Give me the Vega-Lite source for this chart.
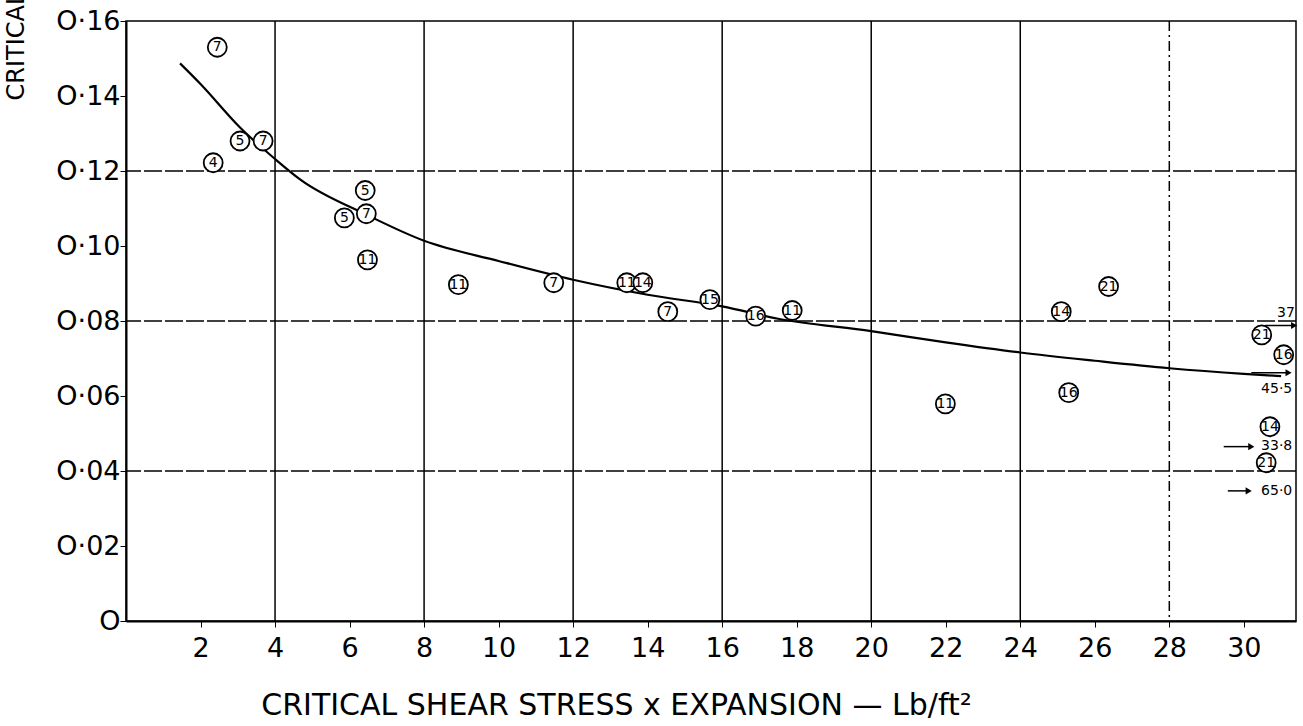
{
  "$schema": "https://vega.github.io/schema/vega-lite/v6.json",
  "width": 1170,
  "height": 600,
  "autosize": "none",
  "padding": {"left": 126, "top": 21, "right": 7, "bottom": 105},
  "background": "white",
  "config": {
    "font": "DejaVu Sans",
    "view": {"stroke": "black", "strokeWidth": 1.5},
    "axisX": {
      "grid": false,
      "domainColor": "black",
      "domainWidth": 2,
      "tickColor": "black",
      "tickSize": 6,
      "labelFontSize": 27,
      "labelColor": "black",
      "labelPadding": 8,
      "titleFontSize": 30,
      "titleFontWeight": "normal",
      "titleColor": "black",
      "titleX": 490,
      "titleY": 84,
      "titleAlign": "center",
      "titleBaseline": "middle"
    },
    "axisY": {
      "grid": false,
      "domainColor": "black",
      "domainWidth": 2,
      "tickColor": "black",
      "tickSize": 6,
      "labelFontSize": 27,
      "labelColor": "black",
      "labelPadding": 0,
      "labelExpr": "datum.value == 0 ? 'O' : replace(replace(format(datum.value, '.2f'), '.', '·'), '0·', 'O·')",
      "titleFontSize": 24,
      "titleFontWeight": "normal",
      "titleColor": "black",
      "titleAngle": 270,
      "titleAlign": "left",
      "titleBaseline": "middle",
      "titleX": -110,
      "titleY": 79
    }
  },
  "datasets": {
    "pts": [
      {"x": 2.45, "y": 0.153, "label": "7"},
      {"x": 2.34, "y": 0.1222, "label": "4"},
      {"x": 3.06, "y": 0.128, "label": "5"},
      {"x": 3.68, "y": 0.128, "label": "7"},
      {"x": 6.42, "y": 0.1148, "label": "5"},
      {"x": 5.86, "y": 0.1075, "label": "5"},
      {"x": 6.45, "y": 0.1086, "label": "7"},
      {"x": 6.48, "y": 0.0963, "label": "11"},
      {"x": 8.92, "y": 0.0897, "label": "11"},
      {"x": 11.48, "y": 0.0902, "label": "7"},
      {"x": 13.44, "y": 0.0902, "label": "11"},
      {"x": 13.87, "y": 0.0902, "label": "14"},
      {"x": 14.54, "y": 0.0825, "label": "7"},
      {"x": 15.67, "y": 0.0857, "label": "15"},
      {"x": 16.9, "y": 0.0813, "label": "16"},
      {"x": 17.88, "y": 0.0828, "label": "11"},
      {"x": 21.99, "y": 0.0579, "label": "11"},
      {"x": 25.1, "y": 0.0825, "label": "14"},
      {"x": 26.37, "y": 0.0892, "label": "21"},
      {"x": 25.3, "y": 0.0609, "label": "16"},
      {"x": 30.48, "y": 0.0763, "label": "21"},
      {"x": 31.07, "y": 0.071, "label": "16"},
      {"x": 30.7, "y": 0.0518, "label": "14"},
      {"x": 30.6, "y": 0.0422, "label": "21"}
    ],
    "curve": [
      {"x": 1.45, "y": 0.1487},
      {"x": 2.0, "y": 0.1432},
      {"x": 3.06, "y": 0.1316},
      {"x": 4.0, "y": 0.1232},
      {"x": 4.68, "y": 0.1177},
      {"x": 6.4, "y": 0.1086},
      {"x": 8.0, "y": 0.1014},
      {"x": 10.0, "y": 0.096},
      {"x": 12.0, "y": 0.091},
      {"x": 14.0, "y": 0.087},
      {"x": 16.0, "y": 0.0839},
      {"x": 17.5, "y": 0.0806},
      {"x": 20.0, "y": 0.0773},
      {"x": 22.0, "y": 0.0743},
      {"x": 24.0, "y": 0.0716},
      {"x": 26.0, "y": 0.0694},
      {"x": 28.0, "y": 0.0674},
      {"x": 30.0, "y": 0.0659},
      {"x": 31.0, "y": 0.0653}
    ],
    "vgrid": [{"x": 4}, {"x": 8}, {"x": 12}, {"x": 16}, {"x": 20}, {"x": 24}, {"x": 28}],
    "hgrid": [{"y": 0.04}, {"y": 0.08}, {"y": 0.12}],
    "arrows": [
      {"x": 30.57, "x2": 31.35, "y": 0.0788},
      {"x": 30.2, "x2": 31.2, "y": 0.0662},
      {"x": 29.46, "x2": 30.2, "y": 0.0465},
      {"x": 29.57, "x2": 30.13, "y": 0.0347}
    ],
    "notes": [
      {"x": 31.37, "y": 0.0822, "label": "37"},
      {"x": 31.3, "y": 0.062, "label": "45·5"},
      {"x": 31.3, "y": 0.0466, "label": "33·8"},
      {"x": 31.3, "y": 0.0347, "label": "65·0"}
    ]
  },
  "layer": [
    {
      "data": {"name": "vgrid"},
      "transform": [{"filter": "datum.x != 28"}],
      "mark": {"type": "rule", "color": "black", "strokeWidth": 1.5},
      "encoding": {
        "x": {"field": "x", "type": "quantitative", "scale": {"domain": [0, 31.4], "nice": false, "zero": false}, "title": "CRITICAL SHEAR STRESS x EXPANSION — Lb/ft²", "axis": {"values": [2, 4, 6, 8, 10, 12, 14, 16, 18, 20, 22, 24, 26, 28, 30]}}
      }
    },
    {
      "data": {"name": "vgrid"},
      "transform": [{"filter": "datum.x == 28"}],
      "mark": {"type": "rule", "color": "black", "strokeWidth": 1.5, "strokeDash": [10, 4, 2, 4]},
      "encoding": {
        "x": {"field": "x", "type": "quantitative", "title": "CRITICAL SHEAR STRESS x EXPANSION — Lb/ft²", "axis": {"values": [2, 4, 6, 8, 10, 12, 14, 16, 18, 20, 22, 24, 26, 28, 30]}}
      }
    },
    {
      "data": {"name": "hgrid"},
      "mark": {"type": "rule", "color": "black", "strokeWidth": 1.5, "strokeDash": [18, 3]},
      "encoding": {
        "y": {"field": "y", "type": "quantitative", "scale": {"domain": [0, 0.16], "nice": false, "zero": false}, "title": "CRITICAL", "axis": {"values": [0, 0.02, 0.04, 0.06, 0.08, 0.1, 0.12, 0.14, 0.16]}}
      }
    },
    {
      "data": {"name": "curve"},
      "mark": {"type": "line", "color": "black", "strokeWidth": 2.2, "interpolate": "monotone"},
      "encoding": {
        "x": {"field": "x", "type": "quantitative", "title": "CRITICAL SHEAR STRESS x EXPANSION — Lb/ft²", "axis": {"values": [2, 4, 6, 8, 10, 12, 14, 16, 18, 20, 22, 24, 26, 28, 30]}},
        "y": {"field": "y", "type": "quantitative", "title": "CRITICAL", "axis": {"values": [0, 0.02, 0.04, 0.06, 0.08, 0.1, 0.12, 0.14, 0.16]}}
      }
    },
    {
      "data": {"name": "pts"},
      "mark": {"type": "point", "shape": "circle", "filled": true, "fill": "white", "stroke": "black", "strokeWidth": 1.8, "size": 360, "opacity": 1},
      "encoding": {
        "x": {"field": "x", "type": "quantitative", "title": "CRITICAL SHEAR STRESS x EXPANSION — Lb/ft²", "axis": {"values": [2, 4, 6, 8, 10, 12, 14, 16, 18, 20, 22, 24, 26, 28, 30]}},
        "y": {"field": "y", "type": "quantitative", "title": "CRITICAL", "axis": {"values": [0, 0.02, 0.04, 0.06, 0.08, 0.1, 0.12, 0.14, 0.16]}}
      }
    },
    {
      "data": {"name": "pts"},
      "mark": {"type": "text", "fontSize": 14, "color": "black", "align": "center", "baseline": "middle"},
      "encoding": {
        "x": {"field": "x", "type": "quantitative", "title": "CRITICAL SHEAR STRESS x EXPANSION — Lb/ft²", "axis": {"values": [2, 4, 6, 8, 10, 12, 14, 16, 18, 20, 22, 24, 26, 28, 30]}},
        "y": {"field": "y", "type": "quantitative", "title": "CRITICAL", "axis": {"values": [0, 0.02, 0.04, 0.06, 0.08, 0.1, 0.12, 0.14, 0.16]}},
        "text": {"field": "label"}
      }
    },
    {
      "data": {"name": "arrows"},
      "mark": {"type": "rule", "color": "black", "strokeWidth": 1.5},
      "encoding": {
        "x": {"field": "x", "type": "quantitative", "title": "CRITICAL SHEAR STRESS x EXPANSION — Lb/ft²", "axis": {"values": [2, 4, 6, 8, 10, 12, 14, 16, 18, 20, 22, 24, 26, 28, 30]}},
        "x2": {"field": "x2"},
        "y": {"field": "y", "type": "quantitative", "title": "CRITICAL", "axis": {"values": [0, 0.02, 0.04, 0.06, 0.08, 0.1, 0.12, 0.14, 0.16]}}
      }
    },
    {
      "data": {"name": "arrows"},
      "mark": {"type": "point", "shape": "triangle-right", "filled": true, "color": "black", "size": 50, "opacity": 1},
      "encoding": {
        "x": {"field": "x2", "type": "quantitative", "title": "CRITICAL SHEAR STRESS x EXPANSION — Lb/ft²", "axis": {"values": [2, 4, 6, 8, 10, 12, 14, 16, 18, 20, 22, 24, 26, 28, 30]}},
        "y": {"field": "y", "type": "quantitative", "title": "CRITICAL", "axis": {"values": [0, 0.02, 0.04, 0.06, 0.08, 0.1, 0.12, 0.14, 0.16]}}
      }
    },
    {
      "data": {"name": "notes"},
      "mark": {"type": "text", "fontSize": 14, "color": "black", "align": "right", "baseline": "middle"},
      "encoding": {
        "x": {"field": "x", "type": "quantitative", "title": "CRITICAL SHEAR STRESS x EXPANSION — Lb/ft²", "axis": {"values": [2, 4, 6, 8, 10, 12, 14, 16, 18, 20, 22, 24, 26, 28, 30]}},
        "y": {"field": "y", "type": "quantitative", "title": "CRITICAL", "axis": {"values": [0, 0.02, 0.04, 0.06, 0.08, 0.1, 0.12, 0.14, 0.16]}},
        "text": {"field": "label"}
      }
    }
  ]
}
